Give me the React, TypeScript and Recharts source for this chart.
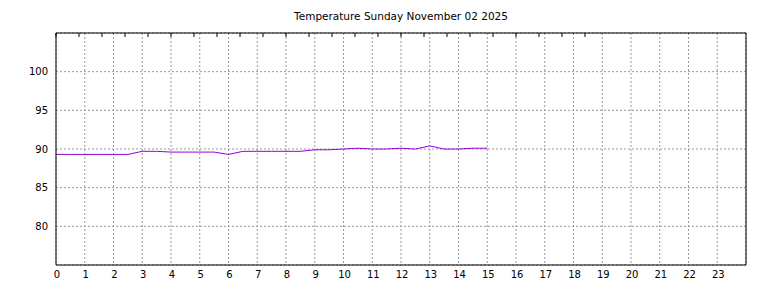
import { CartesianGrid, Line, LineChart, XAxis, YAxis } from "recharts";

// half-hourly readings, 00:00 .. 15:00
const hours = [
  0, 0.5, 1, 1.5, 2, 2.5, 3, 3.5, 4, 4.5, 5, 5.5, 6, 6.5, 7, 7.5, 8, 8.5, 9,
  9.5, 10, 10.5, 11, 11.5, 12, 12.5, 13, 13.5, 14, 14.5, 15,
];
const temps = [
  89.3, 89.3, 89.3, 89.3, 89.3, 89.3, 89.7, 89.7, 89.6, 89.6, 89.6, 89.6, 89.3,
  89.7, 89.7, 89.7, 89.7, 89.7, 89.9, 89.9, 90.0, 90.1, 90.0, 90.0, 90.1, 90.0,
  90.4, 90.0, 90.0, 90.1, 90.1,
];
const xTicks = Array.from({ length: 24 }, (_, i) => i);
const yTicks = [80, 85, 90, 95, 100];

const title = "Temperature Sunday November 02 2025";

const data = hours.map((h, i) => ({ h, t: temps[i] }));

const font = "DejaVu Sans, sans-serif";

export default function App() {
  return (
    <div
      style={{
        position: "absolute",
        left: 0,
        top: 0,
        width: 768,
        height: 288,
        background: "#fff",
        fontFamily: font,
      }}
    >
      <div
        style={{
          position: "absolute",
          left: 56,
          width: 690,
          top: 10,
          textAlign: "center",
          fontSize: 10.5,
          color: "#000",
        }}
      >
        {title}
      </div>
      <LineChart
        width={768}
        height={288}
        data={data}
        margin={{ top: 33, right: 22, bottom: 0, left: 0 }}
      >
        <CartesianGrid stroke="#999" strokeDasharray="2 2" />
        <XAxis
          dataKey="h"
          type="number"
          domain={[0, 24]}
          ticks={xTicks}
          interval={0}
          height={23}
          stroke="#000"
          tickLine={false}
          tickSize={0}
          tickMargin={6}
          tick={{ fill: "#000", fontSize: 10, fontFamily: font, dx: 1 }}
        />
        <XAxis
          xAxisId="top"
          orientation="top"
          type="number"
          domain={[0, 24]}
          ticks={xTicks}
          interval={0}
          mirror
          stroke="#000"
          tickSize={4}
          tickFormatter={() => ""}
        />
        <YAxis
          type="number"
          domain={[75, 105]}
          ticks={yTicks}
          interval={0}
          width={56}
          stroke="#000"
          tickLine={false}
          tickSize={0}
          tickMargin={8}
          tick={{ fill: "#000", fontSize: 10, fontFamily: font }}
        />
        <YAxis
          yAxisId="right"
          orientation="right"
          type="number"
          domain={[75, 105]}
          ticks={yTicks}
          interval={0}
          mirror
          stroke="#000"
          tickSize={4}
          tickFormatter={() => ""}
        />
        <Line
          dataKey="t"
          type="linear"
          stroke="#9400d3"
          strokeWidth={1}
          dot={false}
          isAnimationActive={false}
        />
      </LineChart>
    </div>
  );
}
